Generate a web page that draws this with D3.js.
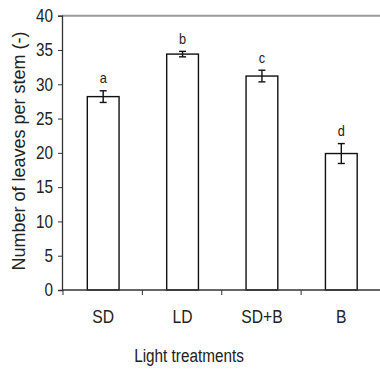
<!DOCTYPE html>
<html>
<head>
<meta charset="utf-8">
<script src="https://cdn.jsdelivr.net/npm/d3@7"></script>
<style>
  body { margin: 0; background: #fff; }
  svg { display: block; font-family: "Liberation Sans", Arial, sans-serif; }
</style>
</head>
<body>
<div id="chart"></div>
<script>
// data
var categories = ["SD", "LD", "SD+B", "B"];
var leaves = [28.2, 34.4, 31.2, 19.9];
var errors = [0.85, 0.4, 0.85, 1.45];
var letters = ["a", "b", "c", "d"];
var yTicks = [0, 5, 10, 15, 20, 25, 30, 35, 40];

var width = 380, height = 369;
var margin = {top: 15.7, right: 0, bottom: 79, left: 62};

var svg = d3.select("#chart").append("svg")
    .attr("width", width)
    .attr("height", height);

// the original uses a narrow font, squeeze the regular one
function narrow(sel, k) {
    sel.each(function() {
        var w = this.getComputedTextLength();
        d3.select(this)
            .attr("textLength", w * k)
            .attr("lengthAdjust", "spacingAndGlyphs");
    });
}

var x = d3.scaleBand()
    .domain(categories)
    .range([63.5, 381])
    .paddingInner(0.6)
    .paddingOuter(0.3);

var y = d3.scaleLinear()
    .domain([0, 40])
    .range([height - margin.bottom, margin.top]);

// top frame line
svg.append("line")
    .attr("x1", margin.left).attr("x2", width)
    .attr("y1", y(40)).attr("y2", y(40))
    .style("stroke", "#9a9a9a")
    .style("stroke-width", 2);

// bars
svg.selectAll(".bar")
    .data(leaves)
    .enter().append("rect")
    .attr("class", "bar")
    .attr("x", function(d, i) { return x(categories[i]); })
    .attr("width", x.bandwidth())
    .attr("y", function(d) { return y(d); })
    .attr("height", function(d) { return y(0) - y(d); })
    .style("fill", "#fff")
    .style("stroke", "#111")
    .style("stroke-width", 1.4);

// error bars
var eb = svg.selectAll(".err")
    .data(leaves)
    .enter().append("g")
    .attr("class", "err")
    .attr("transform", function(d, i) {
        return "translate(" + (x(categories[i]) + x.bandwidth() / 2) + ",0)";
    })
    .style("stroke", "#111")
    .style("stroke-width", 1.4);

eb.append("line")
    .attr("y1", function(d, i) { return y(d + errors[i]); })
    .attr("y2", function(d, i) { return y(d - errors[i]); });
eb.append("line")
    .attr("x1", -3.5).attr("x2", 3.5)
    .attr("y1", function(d, i) { return y(d + errors[i]); })
    .attr("y2", function(d, i) { return y(d + errors[i]); });
eb.append("line")
    .attr("x1", -3.5).attr("x2", 3.5)
    .attr("y1", function(d, i) { return y(d - errors[i]); })
    .attr("y2", function(d, i) { return y(d - errors[i]); });

// significance letters
svg.selectAll(".letter")
    .data(leaves)
    .enter().append("text")
    .attr("class", "letter")
    .attr("x", function(d, i) { return x(categories[i]) + x.bandwidth() / 2; })
    .attr("y", function(d, i) { return y(d + errors[i]) - 7.5; })
    .attr("text-anchor", "middle")
    .style("font-size", "15px")
    .style("fill", "#222")
    .text(function(d, i) { return letters[i]; })
    .call(narrow, 0.85);

// y axis
var yAxis = svg.append("g")
    .attr("transform", "translate(" + margin.left + ",0)")
    .call(d3.axisLeft(y).tickValues(yTicks).tickSize(4).tickPadding(5));
yAxis.select(".domain").style("stroke", "#333").style("stroke-width", 1.3);
yAxis.selectAll(".tick line").style("stroke", "#333");
yAxis.selectAll("text").style("font-size", "18px").style("fill", "#222")
    .call(narrow, 0.85);

// x axis, ticks between categories
var xAxis = svg.append("g")
    .attr("transform", "translate(0," + y(0) + ")");
xAxis.append("line")
    .attr("x1", margin.left).attr("x2", width)
    .style("stroke", "#333").style("stroke-width", 1.3);
var step = x.step();
var bounds = [0, 1, 2, 3].map(function(i) { return x(categories[i]) - step * 0.3 - 0.5; });
xAxis.selectAll(".xt")
    .data(bounds)
    .enter().append("line")
    .attr("x1", function(d) { return d; }).attr("x2", function(d) { return d; })
    .attr("y1", 0).attr("y2", 5)
    .style("stroke", "#333");
xAxis.selectAll(".xl")
    .data(categories)
    .enter().append("text")
    .attr("x", function(d) { return x(d) + x.bandwidth() / 2; })
    .attr("y", 33)
    .attr("text-anchor", "middle")
    .style("font-size", "18px")
    .style("fill", "#222")
    .text(function(d) { return d; })
    .call(narrow, 0.87);

// axis titles
svg.append("text")
    .attr("x", 189)
    .attr("y", 362)
    .attr("text-anchor", "middle")
    .style("font-size", "18px")
    .style("fill", "#222")
    .text("Light treatments")
    .call(narrow, 0.85);

svg.append("text")
    .attr("transform", "translate(25,151) rotate(-90)")
    .attr("text-anchor", "middle")
    .style("font-size", "18px")
    .style("fill", "#222")
    .text("Number of leaves per stem (-)");
</script>
</body>
</html>
